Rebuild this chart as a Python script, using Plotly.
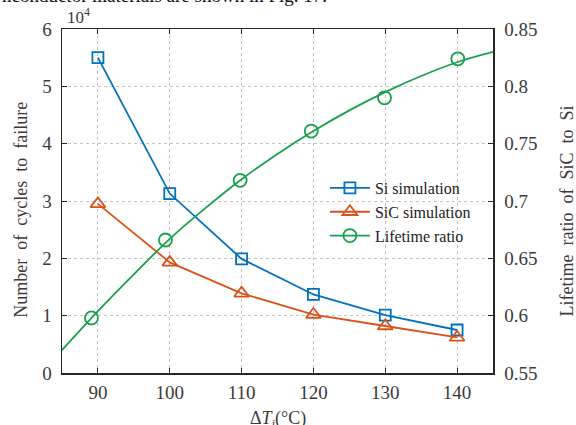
import plotly.graph_objects as go

# ---- data ----
temps = [90, 100, 110, 120, 130, 140]
si_cycles = [5.50, 3.13, 1.99, 1.37, 1.01, 0.75]      # x 10^4
sic_cycles = [2.95, 1.93, 1.39, 1.02, 0.82, 0.62]     # x 10^4
ratio_x = [89.1, 99.4, 109.8, 119.7, 129.9, 140.1]
ratio_y = [0.598, 0.666, 0.718, 0.761, 0.790, 0.824]
fit_x = [85, 90, 95, 100, 105, 110, 115, 120, 125, 130, 135, 140, 145]
fit_y = [0.570, 0.604, 0.636, 0.667, 0.694, 0.719, 0.741, 0.761, 0.779, 0.795, 0.809, 0.821, 0.830]

x_ticks = [90, 100, 110, 120, 130, 140]
y_ticks = [0, 1, 2, 3, 4, 5, 6]
y2_ticks = [0.55, 0.60, 0.65, 0.70, 0.75, 0.80, 0.85]
y2_labels = ["0.55", "0.6", "0.65", "0.7", "0.75", "0.8", "0.85"]

BLUE = "#0072BD"
ORANGE = "#D95319"
GREEN = "#19a04b"
AX = "#262626"
GRID = "#c4c4c4"
FONT = "Liberation Serif, Times New Roman, serif"
TXT = "#3a3a3a"

fig = go.Figure()
fig.add_trace(go.Scatter(x=temps, y=si_cycles, mode="lines+markers", name="Si simulation",
                         line=dict(color=BLUE, width=1.8),
                         marker=dict(symbol="square-open", size=11, color=BLUE, line=dict(width=1.8))))
fig.add_trace(go.Scatter(x=temps, y=sic_cycles, mode="lines+markers", name="SiC simulation",
                         line=dict(color=ORANGE, width=1.8),
                         marker=dict(symbol="triangle-up-open", size=13, color=ORANGE, line=dict(width=1.8))))
fig.add_trace(go.Scatter(x=fit_x, y=fit_y, mode="lines", yaxis="y2", showlegend=False,
                         line=dict(color=GREEN, width=1.8, shape="spline")))
fig.add_trace(go.Scatter(x=ratio_x, y=ratio_y, mode="markers", yaxis="y2", showlegend=False,
                         marker=dict(symbol="circle-open", size=13, color=GREEN, line=dict(width=1.8))))
fig.add_trace(go.Scatter(x=[None], y=[None], mode="lines+markers", yaxis="y2", name="Lifetime ratio",
                         line=dict(color=GREEN, width=1.8),
                         marker=dict(symbol="circle-open", size=13, color=GREEN, line=dict(width=1.8))))

fig.update_layout(
    width=576, height=425,
    margin=dict(l=62, r=83, t=29, b=52),
    paper_bgcolor="white", plot_bgcolor="white",
    font=dict(family=FONT, size=19, color=TXT),
    showlegend=True,
    hovermode=False,
    legend=dict(x=0.61, y=0.587, xanchor="left", yanchor="top",
                bgcolor="rgba(255,255,255,0)", borderwidth=0,
                font=dict(family=FONT, size=16, color="#222222"),
                tracegroupgap=0, itemwidth=40),
    xaxis=dict(range=[85, 145], tickvals=x_ticks, ticks="inside", ticklen=5, tickcolor=AX,
               showline=True, linecolor=AX, linewidth=1.5, mirror="ticks",
               showgrid=True, gridcolor=GRID, griddash="dot", gridwidth=1,
               zeroline=False, ticklabelstandoff=2, automargin=False,
               tickfont=dict(family=FONT, size=19, color=TXT)),
    yaxis=dict(range=[0, 6], tickvals=y_ticks, ticks="inside", ticklen=5, tickcolor=AX,
               showline=True, linecolor=AX, linewidth=1.5, mirror=False,
               showgrid=True, gridcolor=GRID, griddash="dot", gridwidth=1,
               zeroline=False, ticklabelstandoff=5, automargin=False,
               tickfont=dict(family=FONT, size=19, color=TXT)),
    yaxis2=dict(range=[0.55, 0.85], tickvals=y2_ticks, ticktext=y2_labels, overlaying="y", side="right",
                ticks="inside", ticklen=5, tickcolor=AX,
                showline=True, linecolor=AX, linewidth=1.5,
                showgrid=False, zeroline=False, ticklabelstandoff=6, automargin=False,
                tickfont=dict(family=FONT, size=19, color=TXT)),
    annotations=[
        dict(text="10<sup>4</sup>", xref="paper", yref="paper", x=0.008, y=1.0,
             xanchor="left", yanchor="bottom", showarrow=False, font=dict(size=17, color=TXT)),
        dict(text="Number  of  cycles  to  failure", xref="paper", yref="paper", x=-0.097, y=0.475,
             xanchor="center", yanchor="middle",
             textangle=-90, showarrow=False, font=dict(size=18, color=TXT)),
        dict(text="Lifetime  ratio  of  SiC  to  Si", xref="paper", yref="paper", x=1.172, y=0.47,
             xanchor="center", yanchor="middle",
             textangle=-90, showarrow=False, font=dict(size=18, color=TXT)),
        dict(text="Δ<i>T<sub>j</sub></i>(°C)", xref="paper", yref="paper", x=0.5, y=-0.097,
             xanchor="center", yanchor="top", showarrow=False, font=dict(size=18, color=TXT)),
        dict(text="nconductor materials are shown in Fig. 17.", xref="paper", yref="paper",
             x=-0.144, y=1.062, xanchor="left", yanchor="bottom", showarrow=False,
             font=dict(size=19, color="#111111")),
    ],
)

fig.write_html("out.html", config={"displayModeBar": False, "staticPlot": True},
               post_script="document.body.style.margin='0';document.body.style.overflow='hidden';")
